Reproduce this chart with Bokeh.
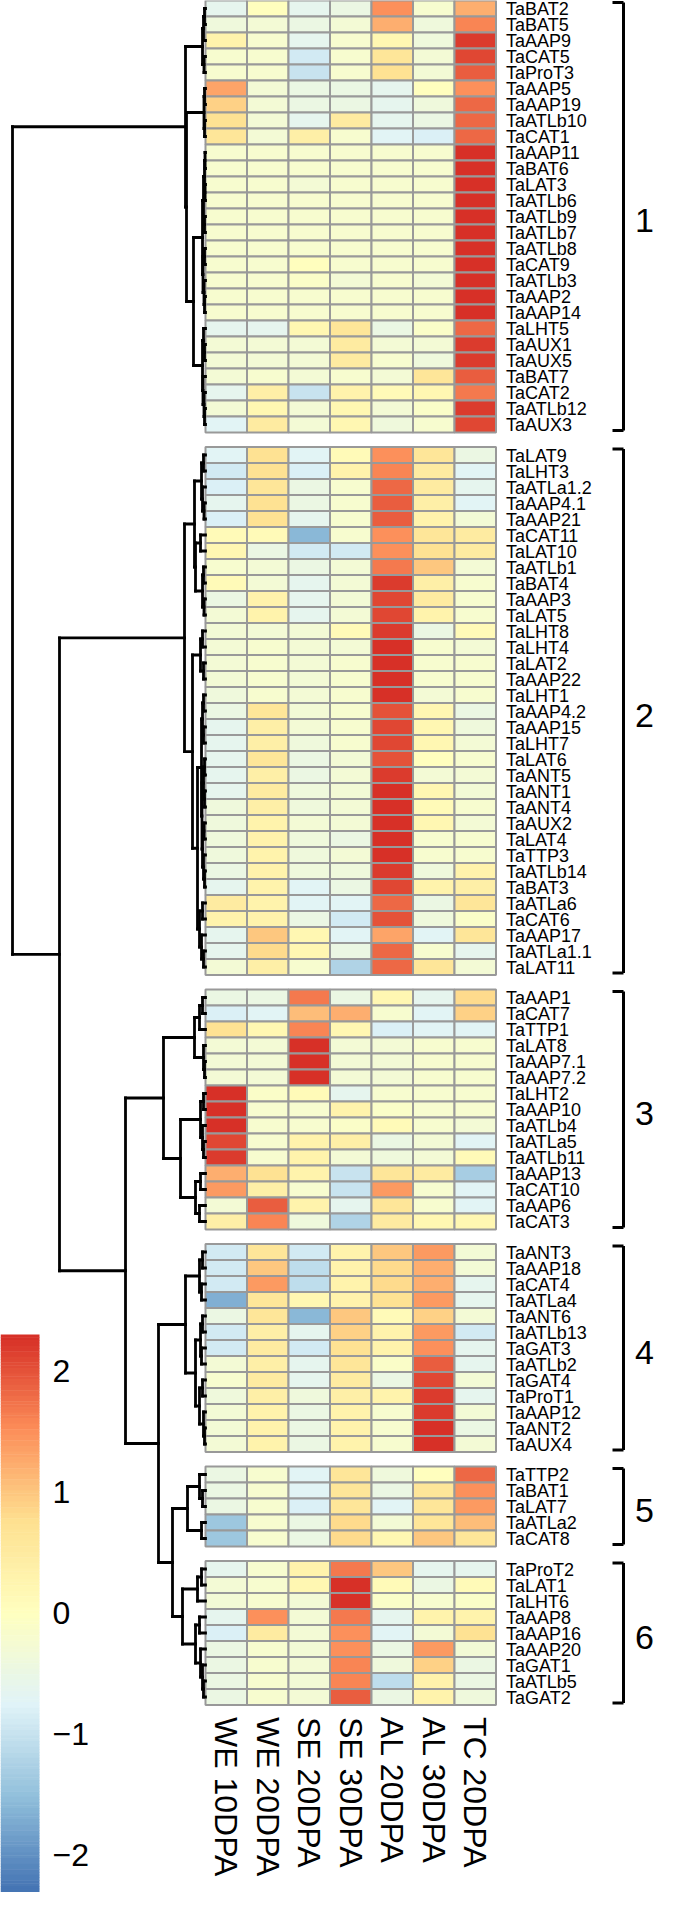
import numpy as np
from bokeh.plotting import figure
from bokeh.models import Range1d
from bokeh.core.properties import value
from bokeh.embed import file_html
from bokeh.resources import INLINE

# ---------------- data ----------------
columns = ["WE 10DPA", "WE 20DPA", "SE 20DPA", "SE 30DPA", "AL 20DPA", "AL 30DPA", "TC 20DPA"]

genes_1 = ["TaBAT2", "TaBAT5", "TaAAP9", "TaCAT5", "TaProT3", "TaAAP5", "TaAAP19", "TaATLb10", "TaCAT1",
           "TaAAP11", "TaBAT6", "TaLAT3", "TaATLb6", "TaATLb9", "TaATLb7", "TaATLb8", "TaCAT9", "TaATLb3",
           "TaAAP2", "TaAAP14", "TaLHT5", "TaAUX1", "TaAUX5", "TaBAT7", "TaCAT2", "TaATLb12", "TaAUX3"]
vals_1 = [
    [-0.6, 0.0, -0.6, -0.5, 1.5, -0.2, 1.2],
    [-0.4, -0.3, -0.5, -0.3, 1.2, -0.4, 1.6],
    [0.3, -0.2, -0.6, -0.2, 0.2, -0.4, 2.2],
    [-0.2, -0.2, -0.9, -0.2, 0.6, -0.3, 2.1],
    [-0.2, -0.2, -1.0, -0.2, 0.7, -0.3, 1.9],
    [1.3, -0.3, -0.5, -0.5, -0.6, 0.0, 1.5],
    [0.9, -0.3, -0.5, -0.5, -0.6, -0.4, 1.8],
    [0.7, -0.3, -0.6, 0.5, -0.6, -0.5, 1.8],
    [0.6, -0.3, 0.4, -0.2, -0.7, -0.8, 1.8],
    [-0.2, -0.2, -0.2, -0.2, -0.2, -0.2, 2.3],
    [-0.2, -0.2, -0.2, -0.2, -0.2, -0.2, 2.3],
    [-0.2, -0.2, -0.3, -0.2, -0.2, -0.2, 2.3],
    [-0.2, -0.2, -0.2, -0.2, -0.2, -0.2, 2.3],
    [-0.2, -0.2, -0.2, -0.2, -0.2, -0.2, 2.3],
    [-0.2, -0.2, -0.2, -0.2, -0.2, -0.2, 2.3],
    [-0.2, -0.2, -0.2, -0.2, -0.2, -0.2, 2.3],
    [-0.2, -0.2, 0.0, -0.2, -0.2, -0.2, 2.3],
    [-0.2, -0.2, -0.1, -0.3, -0.2, -0.3, 2.3],
    [-0.2, -0.2, -0.2, -0.2, -0.2, -0.2, 2.3],
    [-0.2, -0.2, -0.2, -0.2, -0.2, -0.2, 2.3],
    [-0.6, -0.6, 0.2, 0.6, -0.5, -0.1, 1.8],
    [-0.3, -0.3, -0.3, 0.5, -0.3, -0.3, 2.2],
    [-0.3, -0.3, -0.3, 0.5, -0.2, -0.4, 2.2],
    [-0.3, -0.2, -0.3, -0.2, -0.3, 0.6, 1.9],
    [-0.6, 0.4, -1.0, 0.3, 0.1, 0.2, 1.7],
    [-0.3, 0.2, -0.3, 0.2, -0.3, -0.1, 2.2],
    [-0.7, 0.5, -0.3, 0.2, -0.4, -0.2, 2.1],
]

genes_2 = ["TaLAT9", "TaLHT3", "TaATLa1.2", "TaAAP4.1", "TaAAP21", "TaCAT11", "TaLAT10", "TaATLb1", "TaBAT4",
           "TaAAP3", "TaLAT5", "TaLHT8", "TaLHT4", "TaLAT2", "TaAAP22", "TaLHT1", "TaAAP4.2", "TaAAP15",
           "TaLHT7", "TaLAT6", "TaANT5", "TaANT1", "TaANT4", "TaAUX2", "TaLAT4", "TaTTP3", "TaATLb14",
           "TaBAT3", "TaATLa6", "TaCAT6", "TaAAP17", "TaATLa1.1", "TaLAT11"]
vals_2 = [
    [-0.7, 0.7, -0.7, 0.1, 1.5, 0.6, -0.5],
    [-0.9, 0.7, -0.8, 0.3, 1.6, 0.5, -0.7],
    [-0.8, 0.6, -0.5, -0.2, 1.8, 0.5, -0.6],
    [-0.6, 0.7, -0.5, -0.2, 1.9, 0.4, -0.7],
    [-0.8, 0.7, -0.6, -0.2, 1.9, 0.3, -0.3],
    [0.1, 0.1, -1.6, -0.2, 1.5, 0.6, 0.5],
    [0.2, -0.5, -0.9, -0.9, 1.5, 0.7, 0.5],
    [-0.2, -0.3, -0.5, -0.3, 1.7, 1.0, -0.3],
    [0.1, -0.3, -0.6, -0.3, 2.2, 0.4, -0.2],
    [-0.5, 0.3, -0.6, -0.3, 2.1, 0.5, -0.2],
    [-0.3, 0.3, -0.6, -0.3, 2.1, 0.3, -0.2],
    [-0.3, -0.3, -0.3, 0.1, 2.2, -0.5, 0.1],
    [-0.3, -0.2, -0.3, -0.3, 2.3, -0.2, -0.3],
    [-0.3, -0.2, -0.3, -0.2, 2.3, -0.2, -0.2],
    [-0.3, -0.2, -0.3, -0.2, 2.3, -0.2, -0.2],
    [-0.4, -0.2, -0.3, -0.2, 2.3, -0.3, -0.2],
    [-0.5, 0.6, -0.3, -0.2, 2.0, 0.2, -0.5],
    [-0.6, 0.4, -0.3, -0.2, 2.1, 0.2, -0.4],
    [-0.6, 0.4, -0.4, -0.2, 2.1, 0.2, -0.3],
    [-0.6, 0.6, -0.5, -0.3, 2.0, 0.0, -0.2],
    [-0.6, 0.4, -0.5, -0.3, 2.2, -0.3, -0.3],
    [-0.6, 0.5, -0.4, -0.3, 2.3, 0.2, -0.3],
    [-0.4, 0.4, -0.4, -0.3, 2.3, 0.1, -0.2],
    [-0.4, 0.3, -0.3, -0.3, 2.3, 0.2, -0.3],
    [-0.4, 0.3, -0.4, -0.5, 2.3, -0.2, -0.2],
    [-0.4, 0.3, -0.4, -0.3, 2.3, -0.2, -0.2],
    [-0.5, 0.3, -0.4, -0.4, 2.2, -0.4, 0.3],
    [-0.6, 0.3, -0.7, -0.5, 2.1, 0.3, 0.4],
    [0.5, 0.3, -0.7, -0.7, 1.8, -0.5, 0.6],
    [0.3, 0.3, -0.5, -0.9, 2.0, -0.4, -0.1],
    [-0.6, 1.0, 0.2, -0.7, 1.3, -0.7, 0.6],
    [-0.6, 0.8, 0.2, -0.5, 1.8, -0.2, -0.6],
    [-0.3, 0.4, -0.2, -1.2, 1.8, 0.6, -0.3],
]

genes_3 = ["TaAAP1", "TaCAT7", "TaTTP1", "TaLAT8", "TaAAP7.1", "TaAAP7.2", "TaLHT2", "TaAAP10", "TaATLb4",
           "TaATLa5", "TaATLb11", "TaAAP13", "TaCAT10", "TaAAP6", "TaCAT3"]
vals_3 = [
    [-0.5, -0.5, 1.7, -0.5, 0.2, -0.6, 0.8],
    [-0.8, -0.7, 1.1, 1.2, -0.2, -0.7, 0.9],
    [0.7, 0.2, 1.6, 0.2, -0.8, -0.7, -0.7],
    [-0.3, -0.3, 2.3, -0.3, -0.3, -0.2, -0.2],
    [-0.3, -0.3, 2.3, -0.3, -0.3, -0.2, -0.2],
    [-0.3, -0.3, 2.3, -0.3, -0.3, -0.2, -0.2],
    [2.3, -0.1, 0.1, -0.6, -0.2, -0.2, -0.2],
    [2.3, -0.2, -0.2, 0.3, -0.1, -0.2, -0.2],
    [2.3, -0.2, -0.2, -0.1, 0.1, -0.2, -0.3],
    [2.1, -0.2, 0.3, 0.4, -0.5, -0.3, -0.7],
    [2.2, -0.2, 0.3, -0.3, -0.4, -0.3, 0.1],
    [1.2, 0.7, 0.3, -1.0, 0.6, 0.5, -1.3],
    [1.4, 0.4, -0.2, -1.0, 1.4, -0.2, -0.7],
    [-0.3, 1.9, 0.3, -0.6, 0.6, -0.2, -0.7],
    [0.4, 1.6, -0.4, -1.2, 0.5, 0.2, 0.2],
]

genes_4 = ["TaANT3", "TaAAP18", "TaCAT4", "TaATLa4", "TaANT6", "TaATLb13", "TaGAT3", "TaATLb2", "TaGAT4",
           "TaProT1", "TaAAP12", "TaANT2", "TaAUX4"]
vals_4 = [
    [-0.9, 0.6, -0.9, 0.3, 1.0, 1.4, -0.3],
    [-0.9, 1.0, -1.1, 0.3, 0.8, 1.2, -0.3],
    [-0.9, 1.4, -1.1, 0.3, 0.8, 1.2, -0.6],
    [-1.7, 0.6, 0.2, 0.3, 0.7, 1.4, -0.6],
    [-0.5, 0.6, -1.6, 1.0, 0.1, 0.9, -0.3],
    [-0.9, 0.4, -0.6, 0.9, 0.3, 1.4, -0.9],
    [-0.9, 0.5, -0.9, 0.7, 0.3, 1.5, -0.6],
    [-0.3, 0.4, -0.6, 0.6, -0.1, 1.9, -0.6],
    [-0.2, 0.5, -0.6, 0.5, -0.5, 2.1, -0.3],
    [-0.4, 0.4, -0.4, 0.4, 0.3, 2.2, -0.6],
    [-0.3, 0.3, -0.5, 0.3, -0.2, 2.2, -0.3],
    [-0.3, 0.3, -0.5, 0.3, -0.2, 2.3, -0.5],
    [-0.3, 0.3, -0.5, 0.3, -0.2, 2.3, -0.3],
]

genes_5 = ["TaTTP2", "TaBAT1", "TaLAT7", "TaATLa2", "TaCAT8"]
vals_5 = [
    [-0.5, -0.2, -0.7, 0.6, -0.4, 0.0, 1.8],
    [-0.5, -0.2, -0.7, 0.6, -0.5, 0.6, 1.5],
    [-0.5, -0.2, -0.8, 0.6, -0.7, 0.6, 1.4],
    [-1.4, -0.2, -0.5, 0.8, -0.3, 0.6, 1.1],
    [-1.4, -0.2, -0.5, 0.8, 0.2, 1.0, 0.6],
]

genes_6 = ["TaProT2", "TaLAT1", "TaLHT6", "TaAAP8", "TaAAP16", "TaAAP20", "TaGAT1", "TaATLb5", "TaGAT2"]
vals_6 = [
    [-0.6, -0.2, 0.3, 1.7, 1.0, -0.6, -0.6],
    [-0.3, -0.2, 0.2, 2.3, 0.1, -0.5, 0.1],
    [-0.3, -0.2, -0.3, 2.3, -0.1, -0.2, -0.1],
    [-0.6, 1.5, -0.3, 1.7, -0.6, 0.3, 0.3],
    [-0.8, 0.5, -0.3, 1.5, -0.7, -0.3, 0.7],
    [-0.5, -0.2, -0.3, 1.5, -0.5, 1.4, -0.3],
    [-0.5, -0.2, -0.3, 1.6, -0.4, 0.9, -0.5],
    [-0.5, -0.2, -0.3, 1.6, -1.1, 0.3, -0.5],
    [-0.5, -0.2, -0.3, 1.9, -0.5, 0.3, -0.4],
]

cluster_labels = ["1", "2", "3", "4", "5", "6"]
legend_ticks = [2, 1, 0, -1, -2]
value_min, value_max = -2.3, 2.3
palette_anchors = ["#4575B4", "#91BFDB", "#E0F3F8", "#FFFFBF", "#FEE090", "#FC8D59", "#D73027"]

# Dendrogram: (merge height, left, right); leaves are global row indices
t1a = (3, (2, (1, 0, 1), 2), (1.5, 3, 4))
t1b = (1.5, (1, 5, 6), (1, 7, 8))
t1c = (3, (2, (1, (0.5, 9, 10), (0.5, 11, 12)), (1, 13, 14)), (2.5, (1, 15, 16), (1.5, 17, (1, 18, 19))))
t1d = (3, (2, 20, (1, 21, 22)), (2.5, 23, (1.5, 24, (1, 25, 26))))
C1 = (20, t1a, (19, t1b, (12, t1c, t1d)))
t2a = (4, (2, 27, 28), (3, 29, (1.5, 30, 31)))
t2b = (10, (5, 32, 33), (3, (2, 34, 35), (1.5, 36, 37)))
t2p = (5, (3, 38, 39), (2, 40, 41))
t2q1 = (4, (3, (2, 42, 43), (2, 44, 45)), (3.5, (2, (1, 46, 47), (1, 48, 49)), (3, (1.5, 50, 51), (2, 52, (1, 53, 54)))))
t2q2 = (6, (3, 55, 56), (4, 57, (2, 58, 59)))
C2 = (21, (11, t2a, t2b), (13, t2p, (8, t2q1, t2q2)))
C3 = (42, (11, (6, (3, 60, 61), 62), (2, 63, (1, 64, 65))),
      (25, (5, (2, 66, 67), (3, 68, (2, 69, 70))), (10, (5, 71, 72), (6, 73, 74))))
C4 = (20, (6, (3, 75, 76), (4, 77, 78)),
      (10, (5, (3, 79, 80), (4, 81, 82)), (6, (3, 83, 84), (2, 85, (1, 86, 87)))))
C5 = (18, (6, 88, (3, 89, 90)), (4, 91, 92))
C6 = (23, (8, (4, 93, 94), 95), (10, (6, 96, 97), (5, 98, (3, 99, (2, 100, 101)))))
TREE = (193, C1, (146, C2, (80, C3, (47, C4, (33, C5, C6)))))

# ---------------- layout ----------------
HEAT_LEFT = 213.0
CELL_W = 41.5
TOP = 8.0
ROW_H = 16.0
GAP = 14.5

groups_genes = [genes_1, genes_2, genes_3, genes_4, genes_5, genes_6]
groups_vals = [vals_1, vals_2, vals_3, vals_4, vals_5, vals_6]

anchor_rgb = np.array([[int(c[i:i + 2], 16) for i in (1, 3, 5)] for c in palette_anchors], float)
ramp_pos = np.linspace(0, 1, len(palette_anchors))
ramp = np.column_stack([np.interp(np.linspace(0, 1, 100), ramp_pos, anchor_rgb[:, k]) for k in range(3)])


def color_of(v):
    idx = int(np.clip((v - value_min) / (value_max - value_min) * 100, 0, 99))
    r, g, b = ramp[idx]
    return "#%02x%02x%02x" % (int(round(r)), int(round(g)), int(round(b)))


row_centers = []
block_spans = []
cl, cr, ct, cb, cc = [], [], [], [], []
lab_x, lab_y, lab_t = [], [], []
y = TOP
for genes, vals in zip(groups_genes, groups_vals):
    top = y
    for gi, gname in enumerate(genes):
        yc = y + ROW_H / 2
        row_centers.append(yc)
        for ci in range(len(columns)):
            cl.append(HEAT_LEFT + ci * CELL_W)
            cr.append(HEAT_LEFT + (ci + 1) * CELL_W)
            ct.append(y)
            cb.append(y + ROW_H)
            cc.append(color_of(vals[gi][ci]))
        lab_x.append(HEAT_LEFT + len(columns) * CELL_W + 10)
        lab_y.append(yc + 0.5)
        lab_t.append(gname)
        y += ROW_H
    block_spans.append((top, y))
    y += GAP

p = figure(width=659, height=1892, output_backend="svg", toolbar_location=None,
           x_range=Range1d(8, 667), y_range=Range1d(1900, 8), min_border=0)
p.axis.visible = False
p.grid.visible = False
p.outline_line_color = None
p.background_fill_color = "white"
p.border_fill_color = "white"

# heatmap cells
p.quad(left=cl, right=cr, top=ct, bottom=cb, fill_color=cc, line_color="#999999", line_width=2)

# row labels
p.text(x=lab_x, y=lab_y, text=lab_t, text_font=value("Liberation Sans"), text_font_size=value("18px"),
       text_baseline="middle", text_align="left", text_color="black")

# column labels
heat_bottom = block_spans[-1][1]
p.text(x=[HEAT_LEFT + (i + 0.5) * CELL_W for i in range(len(columns))], y=[heat_bottom + 12] * len(columns),
       text=columns, angle=-np.pi / 2, text_font=value("Liberation Sans"), text_font_size=value("32px"),
       text_baseline="middle", text_align="left", text_color="black")

# dendrogram
seg_x0, seg_y0, seg_x1, seg_y1 = [], [], [], []


def layout(node):
    if isinstance(node, int):
        return HEAT_LEFT, row_centers[node]
    h, a, b = node
    xa, ya = layout(a)
    xb, yb = layout(b)
    xn = HEAT_LEFT - h
    seg_x0.extend([xn, xn, xn]); seg_y0.extend([ya, ya, yb])
    seg_x1.extend([xn, xa, xb]); seg_y1.extend([yb, ya, yb])
    return xn, (ya + yb) / 2


layout(TREE)
p.segment(x0=seg_x0, y0=seg_y0, x1=seg_x1, y1=seg_y1, line_color="black", line_width=2.8, line_cap="square")

# cluster brackets and numbers
BR_X = 631
bx0, by0, bx1, by1 = [], [], [], []
num_y = []
for (t, b) in block_spans:
    bx0 += [BR_X, BR_X - 11, BR_X - 11]
    by0 += [t + 2, t + 2, b - 2]
    bx1 += [BR_X, BR_X, BR_X]
    by1 += [b - 2, t + 2, b - 2]
    num_y.append((t + b) / 2 + 4)
p.segment(x0=bx0, y0=by0, x1=bx1, y1=by1, line_color="black", line_width=3)
p.text(x=[652] * len(num_y), y=num_y, text=cluster_labels, text_font=value("Liberation Sans"),
       text_font_size=value("34px"), text_align="center", text_baseline="middle", text_color="black")

# colour legend
LEG_L, LEG_R, LEG_T, LEG_B = 8, 47, 1342, 1899
steps = np.linspace(value_max, value_min, 201)
span = LEG_B - LEG_T


def leg_y(v):
    return LEG_T + (value_max - v) / (value_max - value_min) * span


p.quad(left=[LEG_L] * 200, right=[LEG_R] * 200,
       top=[leg_y(steps[i]) for i in range(200)], bottom=[leg_y(steps[i + 1]) + 0.5 for i in range(200)],
       fill_color=[color_of((steps[i] + steps[i + 1]) / 2) for i in range(200)], line_color=None)
p.text(x=[60] * len(legend_ticks), y=[leg_y(v) for v in legend_ticks],
       text=[("\u2212%d" % -v) if v < 0 else str(v) for v in legend_ticks],
       text_font=value("Liberation Sans"), text_font_size=value("32px"),
       text_align="left", text_baseline="middle", text_color="black")

open("out.html", "w").write(file_html(p, INLINE))
